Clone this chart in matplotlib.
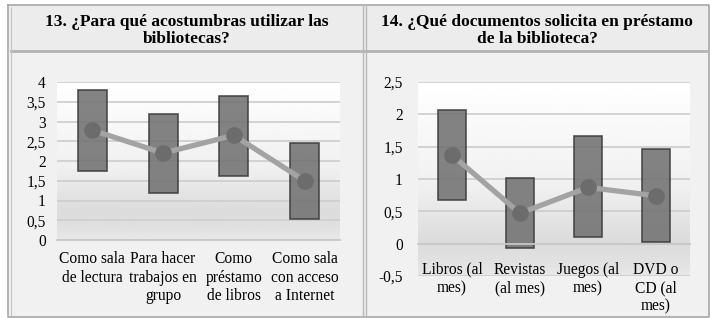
import numpy as np
import matplotlib
matplotlib.use("Agg")
import matplotlib.pyplot as plt
from matplotlib.patches import Rectangle
from matplotlib.lines import Line2D

# ── data ───────────────────────────────────────────
uso_cats = ["Como sala\nde lectura", "Para hacer\ntrabajos en\ngrupo",
            "Como\npréstamo\nde libros", "Como sala\ncon acceso\na Internet"]
uso_low = [1.75, 1.2, 1.62, 0.53]
uso_high = [3.8, 3.2, 3.65, 2.46]
uso_mean = [2.78, 2.2, 2.65, 1.5]
uso_ticks = [0, 0.5, 1, 1.5, 2, 2.5, 3, 3.5, 4]

doc_cats = ["Libros (al\nmes)", "Revistas\n(al mes)", "Juegos (al\nmes)", "DVD o\nCD (al\nmes)"]
doc_low = [0.68, -0.07, 0.1, 0.03]
doc_high = [2.07, 1.02, 1.66, 1.46]
doc_mean = [1.37, 0.47, 0.87, 0.74]
doc_ticks = [-0.5, 0, 0.5, 1, 1.5, 2, 2.5]

titles = ["13. ¿Para qué acostumbras utilizar las\nbibliotecas?",
          "14. ¿Qué documentos solicita en préstamo\nde la biblioteca?"]

W, H = 710, 318
plt.rcParams['font.family'] = ['Liberation Serif', 'DejaVu Serif']
fig = plt.figure(figsize=(W / 100, H / 100), dpi=100)
fig.patch.set_facecolor("white")


def px_rect(x0, y0, x1, y1):
    # pixel box (top-left origin) -> figure fraction [l, b, w, h]
    return [x0 / W, 1 - y1 / H, (x1 - x0) / W, (y1 - y0) / H]


def add_box(x0, y0, x1, y1, color):
    l, b, w, h = px_rect(x0, y0, x1, y1)
    fig.patches.append(Rectangle((l, b), w, h, transform=fig.transFigure,
                                 facecolor=color, edgecolor="none", zorder=-3))


def add_line(xs, ys, color, lw):
    fig.lines.append(Line2D([x / W for x in xs], [1 - y / H for y in ys],
                            transform=fig.transFigure, color=color, lw=lw,
                            zorder=-2))


# table cells
add_box(9, 5, 709, 317, "#f1f1f1")
add_box(9, 5, 709, 51, "#ececec")
add_line([8, 709, 709, 8, 8], [5, 5, 317, 317, 5], "#a8a8a8", 1.2)
add_line([11, 707], [51, 51], "#b4b4b4", 2.0)
add_line([11, 11], [8, 315], "#c4c4c4", 0.8)
add_line([363, 363], [6, 316], "#b8b8b8", 1.0)
add_line([366, 366], [6, 316], "#b8b8b8", 1.0)

fig.text(187 / W, 1 - 30.5 / H, titles[0], ha="center", va="center",
         fontsize=12.5, fontweight="bold", linespacing=1.15)
fig.text(537 / W, 1 - 30.5 / H, titles[1], ha="center", va="center",
         fontsize=12.5, fontweight="bold", linespacing=1.15)

# plot area gradient (white at top, grey lower down)
grad_pos = [0.0, 0.55, 0.82, 0.92, 1.0]
grad_val = [1.0, 0.94, 0.86, 0.88, 0.91]
g = np.interp(np.linspace(0, 1, 200), grad_pos, grad_val)
grad_img = np.repeat(g[:, None], 2, axis=1)


def draw_panel(box, cats, low, high, mean, ticks, ylim, xpad, ypad):
    ax = fig.add_axes(px_rect(*box))
    ax.set_facecolor("none")
    ax.imshow(grad_img, cmap="gray", vmin=0, vmax=1, extent=[0, 1, 0, 1],
              transform=ax.transAxes, aspect="auto", zorder=0)
    x = np.arange(len(cats))
    for t in ticks:
        ax.axhline(t, color="#cfcfcf", lw=1.3, zorder=1)
    heights = np.array(high) - np.array(low)
    ax.bar(x, heights, bottom=low, width=0.41, color="#727272", alpha=0.88,
           edgecolor="#3c3c3c", linewidth=1.2, zorder=2)
    ax.plot(x, mean, color="#a3a3a3", lw=3.8, zorder=3, solid_capstyle="round")
    ax.plot(x, mean, "o", color="#6c6c6c", markersize=11, zorder=4)
    ax.set_xlim(-0.5, len(cats) - 0.5)
    ax.set_ylim(*ylim)
    ax.set_yticks(ticks)
    ax.set_yticklabels([("%g" % t).replace(".", ",") for t in ticks])
    ax.set_xticks(x)
    ax.set_xticklabels(cats, linespacing=1.1)
    for s in ["top", "right", "left"]:
        ax.spines[s].set_visible(False)
    ax.spines["bottom"].set_position(("data", 0))
    ax.spines["bottom"].set_color("#c8c8c8")
    ax.spines["bottom"].set_linewidth(1.3)
    ax.tick_params(axis="both", length=0, labelsize=11.2, colors="black")
    ax.tick_params(axis="x", pad=xpad)
    ax.tick_params(axis="y", pad=ypad)
    return ax


draw_panel((57, 82, 340, 240), uso_cats, uso_low, uso_high, uso_mean,
           uso_ticks, (0, 4), 8, 8)
draw_panel((418, 82, 690, 276), doc_cats, doc_low, doc_high, doc_mean,
           doc_ticks, (-0.5, 2.5), 13, 11)

fig.savefig("out.png", dpi=100)
